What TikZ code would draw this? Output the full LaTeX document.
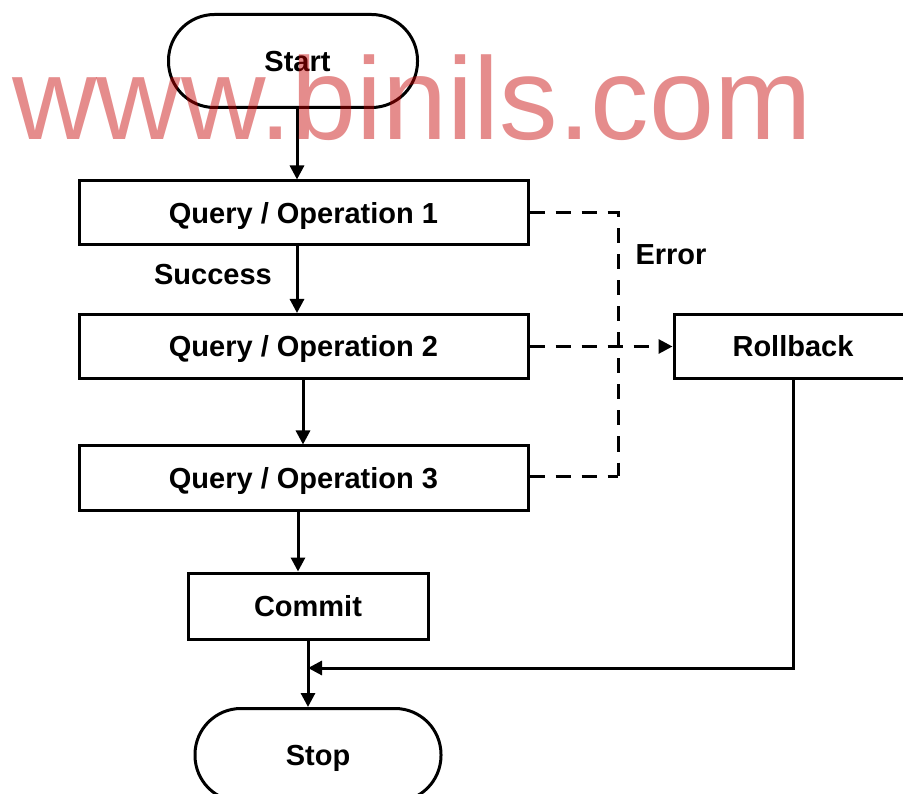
\documentclass[tikz,border=0pt]{standalone}
\usepackage{fontspec}
\setmainfont{Liberation Sans}
\usetikzlibrary{arrows.meta}
\tikzset{
  lbl/.style={font=\fontsize{29}{34}\selectfont\bfseries, inner sep=0pt},
  procbox/.style={draw, line width=3pt, rectangle, inner sep=0pt, text height=21pt, text depth=0pt, font=\fontsize{29}{34}\selectfont\bfseries},
  termbox/.style={draw, line width=3pt, rectangle, rounded corners=46pt, inner sep=0pt, minimum width=249pt, minimum height=93pt, text height=21pt, text depth=0pt, font=\fontsize{29}{34}\selectfont\bfseries},
  arr/.style={line width=3pt, -{Triangle[length=14pt,width=14pt]}},
  errline/.style={line width=3pt, dash pattern=on 15pt off 11pt},
}
\begin{document}
\begin{tikzpicture}[x=1pt,y=-1pt]
\useasboundingbox (0,0) rectangle (903,794);
\clip (0,0) rectangle (903,794);
\fill[white] (0,0) rectangle (903,794);
% nodes
\node[termbox] (start) at (293,61) {\hspace*{9pt}Start};
\node[procbox, minimum width=449pt, minimum height=64pt] (q1) at (303.5,213) {Query / Operation 1};
\node[procbox, minimum width=449pt, minimum height=64pt] (q2) at (303.5,346.5) {Query / Operation 2};
\node[procbox, minimum width=449pt, minimum height=64pt] (q3) at (303.5,478) {Query / Operation 3};
\node[procbox, minimum width=240pt, minimum height=66pt] (commit) at (308,606) {Commit};
\node[procbox, minimum width=238pt, minimum height=64pt] (rollback) at (793,346.5) {Rollback};
\node[termbox, minimum width=246pt] (stop) at (318,755) {Stop};
\node[lbl] (success) at (213,275) {Success};
\node[lbl] (error) at (671,255) {Error};
\coordinate (ecorner1) at (618,213);
\coordinate (ecorner2) at (618,476);
\coordinate (join) at (308,668);
% flow arrows
\draw[arr] (start.south -| 297,0) -- (q1.north -| 297,0);
\draw[arr] (q1.south -| 297,0) -- (q2.north -| 297,0);
\draw[arr] (q2.south -| 303,0) -- (q3.north -| 303,0);
\draw[arr] (q3.south -| 298,0) -- (commit.north -| 298,0);
\draw[arr] (commit.south) -- (stop.north -| commit.south);
\draw[arr] (rollback.south) |- (join);
% error paths
\draw[errline] (q1.east |- ecorner1) -- (ecorner1) -- (ecorner2);
\draw[errline] (q3.east |- ecorner2) -- (ecorner2);
\draw[errline, -{Triangle[length=14pt,width=14pt]}] (q2.east) -- (rollback.west);
% watermark
\node[anchor=base west, inner sep=0pt, text=red!78!black, opacity=0.45, font=\fontsize{117}{120}\selectfont] (wm) at (12,140) {www.binils.com};
\end{tikzpicture}
\end{document}
